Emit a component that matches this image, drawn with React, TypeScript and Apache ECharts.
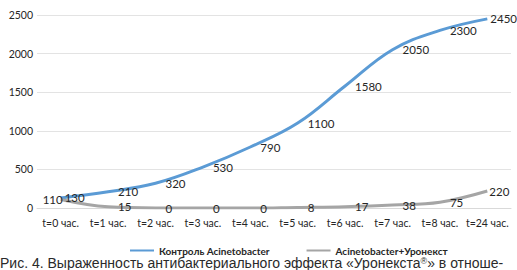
import React, { useEffect, useRef } from "react";
import * as echarts from "echarts";

const categories = ["t=0 час.", "t=1 час.", "t=2 час.", "t=3 час.", "t=4 час.", "t=5 час.", "t=6 час.", "t=7 час.", "t=8 час.", "t=24 час."];
const controlValues = [130, 210, 320, 530, 790, 1100, 1580, 2050, 2300, 2450];
const uronextValues = [110, 15, 0, 0, 0, 8, 17, 38, 75, 220];
const seriesNames = ["Контроль Acinetobacter", "Acinetobacter+Уронекст"];
const yTicks = { min: 0, max: 2500, interval: 500 };
const captionBefore = "Рис. 4. Выраженность антибактериального эффекта «Уронекста";
const captionSup = "®";
const captionAfter = "» в отноше-";

const FONT = "Lato, 'Open Sans', sans-serif";

export default function App() {
  const ref = useRef<HTMLDivElement>(null);
  useEffect(() => {
    if (!ref.current) return;
    const chart = echarts.init(ref.current, null, { renderer: "svg" });
    const labelBase = {
      show: true,
      position: "right",
      distance: 8,
      fontFamily: FONT,
      fontSize: 11.5,
      color: "#262626",
      opacity: 1,
    };
    const controlOverrides: Record<number, any> = {
      0: { position: "right", distance: 2 },
      9: { position: "right", distance: 1 },
    };
    const uronextOverrides: Record<number, any> = {
      0: { position: "left", distance: -4 },
      9: { position: "right", distance: 0 },
    };
    const mk = (vals: number[], ov: Record<number, any>) =>
      vals.map((v, i) => (ov[i] ? { value: v, label: { ...labelBase, ...ov[i] } } : v));
    chart.setOption({
      animation: false,
      color: ["#5B9BD5", "#A5A5A5"],
      grid: { left: 37, right: 6, top: 15, bottom: 62 },
      legend: {
        data: seriesNames,
        left: 124,
        top: 240,
        itemWidth: 24,
        itemHeight: 10,
        itemGap: 36,
        textStyle: { fontFamily: FONT, fontSize: 10, lineHeight: 11, fontWeight: "bold", color: "#262626" },
      },
      xAxis: {
        type: "category",
        data: categories,
        boundaryGap: true,
        axisLine: { lineStyle: { color: "#d9d9d9", width: 1 } },
        axisTick: { show: false },
        axisLabel: { fontFamily: FONT, fontSize: 10.5, color: "#262626", margin: 9, interval: 0 },
      },
      yAxis: {
        type: "value",
        min: yTicks.min,
        max: yTicks.max,
        interval: yTicks.interval,
        axisLine: { show: false },
        axisTick: { show: false },
        axisLabel: {
          fontFamily: FONT,
          fontSize: 10.5,
          color: "#262626",
          margin: 4,
          formatter: (v: number) => String(v),
        },
        splitLine: { lineStyle: { color: "#e3e3e3", width: 1 } },
      },
      series: [
        {
          name: seriesNames[0],
          type: "line",
          smooth: 0.4,
          data: mk(controlValues, controlOverrides),
          symbol: "circle",
          symbolSize: 4,
          showSymbol: true,
          itemStyle: { opacity: 0 },
          lineStyle: { width: 3 },
          label: labelBase,
        },
        {
          name: seriesNames[1],
          type: "line",
          smooth: 0.4,
          data: mk(uronextValues, uronextOverrides),
          symbol: "circle",
          symbolSize: 4,
          showSymbol: true,
          itemStyle: { opacity: 0 },
          lineStyle: { width: 3 },
          label: labelBase,
        },
      ],
      graphic: [
        {
          type: "text",
          left: 0,
          top: 256,
          style: {
            text: captionBefore + "{sup|" + captionSup + "}" + captionAfter,
            fontFamily: "'Liberation Sans', Arial, sans-serif",
            fontSize: 14,
            lineHeight: 14,
            fill: "#2a2a2a",
            rich: {
              sup: {
                fontFamily: "'Liberation Sans', Arial, sans-serif",
                fontSize: 9,
                lineHeight: 14,
                verticalAlign: "top",
                fill: "#2a2a2a",
              },
            },
          },
        },
      ],
    });
    return () => chart.dispose();
  }, []);
  return <div ref={ref} style={{ width: 517, height: 270, position: "absolute", left: 0, top: 0 }} />;
}
